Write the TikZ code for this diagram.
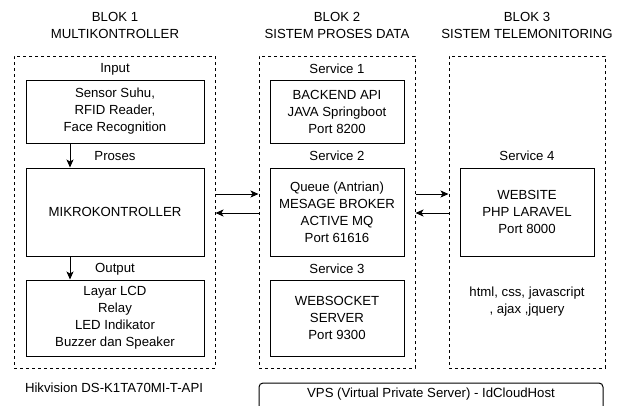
\documentclass[tikz,border=0pt]{standalone}
\usepackage{fontspec}
\setmainfont{Liberation Sans}
\usetikzlibrary{arrows.meta}
\begin{document}
\begin{tikzpicture}[x=1pt,y=-1pt,
  every node/.style={font=\fontsize{13.2}{17}\selectfont, inner sep=0pt, align=center},
  block/.style={draw, line width=1pt, dash pattern=on 3pt off 3pt, minimum width=#1, minimum height=312pt},
  box/.style={draw, line width=1pt, minimum width=#1},
  arr/.style={-{Stealth[length=8pt,width=7pt,inset=2pt]}, line width=1pt}]
\useasboundingbox (0,0) rectangle (620,405);
\clip (0,0) rectangle (620,405);

% titles
\node (t1) at (115,25) {BLOK 1\\MULTIKONTROLLER};
\node (t2) at (337,25) {BLOK 2\\SISTEM PROSES DATA};
\node (t3) at (527,25) {BLOK 3\\SISTEM TELEMONITORING};

% dashed blocks
\node[block=201pt] (b1) at (114.5,212) {};
\node[block=156pt] (b2) at (337,212) {};
\node[block=156pt] (b3) at (527,212) {};

% block 1 content
\node (lin) at (115,69) {Input};
\node[box=178pt, minimum height=63pt] (in) at (115,111.5) {Sensor Suhu,\\RFID Reader,\\Face Recognition};
\node (lpr) at (115,156) {Proses};
\node[box=178pt, minimum height=88pt] (mk) at (115,212) {MIKROKONTROLLER};
\node (lout) at (115,269) {Output};
\node[box=178pt, minimum height=76pt] (out) at (115,318) {Layar LCD\\Relay\\LED Indikator\\Buzzer dan Speaker};
\node (hik) at (114,388) {Hikvision DS-K1TA70MI-T-API};

\draw[arr] ([xshift=-45pt]in.south) -- ([xshift=-45pt]mk.north);
\draw[arr] ([xshift=-45pt]mk.south) -- ([xshift=-45pt]out.north);

% block 2 content
\node (ls1) at (337,69) {Service 1};
\node[box=134pt, minimum height=63pt] (s1) at (337,111.5) {BACKEND API\\JAVA Springboot\\Port 8200};
\node (ls2) at (337,156) {Service 2};
\node[box=134pt, minimum height=88pt] (s2) at (337,212) {Queue (Antrian)\\MESAGE BROKER\\ACTIVE MQ\\Port 61616};
\node (ls3) at (337,269) {Service 3};
\node[box=134pt, minimum height=76pt] (s3) at (337,318) {WEBSOCKET\\SERVER\\Port 9300};

% block 3 content
\node (ls4) at (527,156) {Service 4};
\node[box=134pt, minimum height=88pt] (s4) at (527,212) {WEBSITE\\PHP LARAVEL\\Port 8000};
\node (tech) at (527,301.5) {html, css, javascript\\, ajax ,jquery};

% hosting
\draw[line width=1pt, rounded corners=4pt] (259,383) rectangle (603,415);
\node (vps) at (431,394) {VPS (Virtual Private Server) - IdCloudHost};

% links between blocks
\draw[arr] ([yshift=18pt]b1.east) -- ([yshift=18pt]b2.west);
\draw[arr] ([yshift=-1pt]b2.west) -- ([yshift=-1pt]b1.east);
\draw[arr] ([yshift=18pt]b2.east) -- ([yshift=18pt]b3.west);
\draw[arr] ([yshift=-1pt]b3.west) -- ([yshift=-1pt]b2.east);
\end{tikzpicture}
\end{document}
